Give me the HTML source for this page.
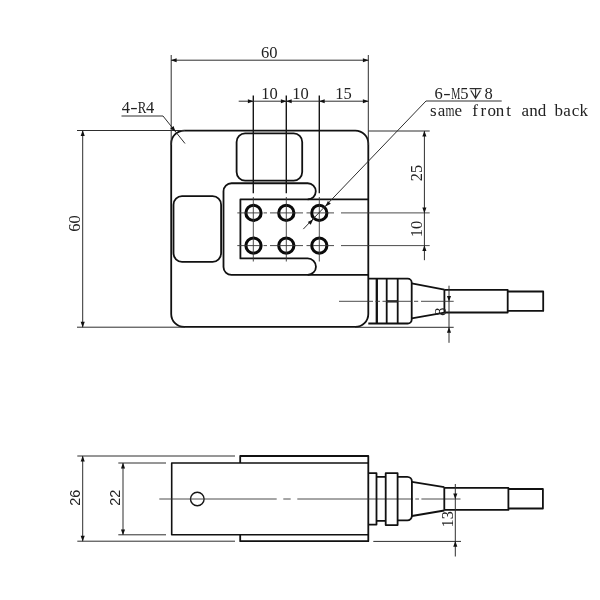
<!DOCTYPE html>
<html>
<head>
<meta charset="utf-8">
<title>Load cell drawing</title>
<style>
html,body{margin:0;padding:0;background:#fff;}
body{width:600px;height:600px;overflow:hidden;font-family:"Liberation Serif",serif;}
svg{display:block;filter:blur(0.35px);}
.k{fill:none;stroke:#111;stroke-width:1.8;stroke-linejoin:round;stroke-linecap:butt;}
.m{fill:none;stroke:#161616;stroke-width:1.4;}
.t{fill:none;stroke:#2e2e2e;stroke-width:1;}
.c{fill:none;stroke:#383838;stroke-width:0.9;}
.h{fill:none;stroke:#0a0a0a;stroke-width:3.1;}
.a{fill:#111;stroke:none;}
.s{font-family:"Liberation Serif",serif;font-size:16.5px;fill:#222;text-anchor:middle;}
.n{font-family:"Liberation Sans",sans-serif;font-size:14.5px;fill:#222;text-anchor:middle;}
</style>
</head>
<body>
<svg width="600" height="600" viewBox="0 0 600 600">
<rect x="0" y="0" width="600" height="600" fill="#fff"/>
<defs>
  <!-- arrowhead pointing right, tip at origin -->
  <path id="ar" d="M0.3,0 L-5.4,-2.05 L-5.4,2.05 Z"/>
</defs>

<!-- ================= FRONT VIEW ================= -->
<!-- main body -->
<rect class="k" x="171.2" y="130.6" width="197.1" height="196.3" rx="13" ry="13"/>
<!-- top window -->
<rect class="k" x="236.6" y="133.4" width="65.6" height="47.2" rx="8.5" ry="8.5"/>
<!-- left window -->
<rect class="k" x="173.5" y="196.2" width="47.6" height="65.6" rx="8.5" ry="8.5"/>
<!-- outer slot -->
<path class="k" d="M307.7,199.4 A8.07,8.07 0 0 0 307.7,183.25 L231.5,183.25 A8,8 0 0 0 223.5,191.25 L223.5,266.9 A8,8 0 0 0 231.5,274.9 L368.3,274.9"/>
<!-- inner tongue -->
<path class="k" d="M368.3,199.4 L240.4,199.4 L240.4,258.4 L307.7,258.4 A8.25,8.25 0 0 1 307.7,274.9"/>

<!-- holes -->
<g class="h">
<circle cx="253.5" cy="212.9" r="7.6"/><circle cx="286.3" cy="212.9" r="7.6"/><circle cx="319.3" cy="212.9" r="7.6"/>
<circle cx="253.5" cy="245.6" r="7.6"/><circle cx="286.3" cy="245.6" r="7.6"/><circle cx="319.3" cy="245.6" r="7.6"/>
</g>

<!-- hole centre lines (horizontal) -->
<path class="c" d="M237.3,212.9 H260 M263.5,212.9 H267 M270,212.9 H303 M306.5,212.9 H310 M313,212.9 H334 M341,212.9 H429.7"/>
<path class="c" d="M237.3,245.6 H260 M263.5,245.6 H267 M270,245.6 H303 M306.5,245.6 H310 M313,245.6 H334 M341,245.6 H429.7"/>
<!-- hole centre lines (vertical) / extension lines -->
<g class="m">
<path d="M253.3,95.5 V193.3 M286.3,95.5 V193.3 M319.3,95.5 V193.3"/>
</g>
<path class="c" d="M253.3,197 V261.5 M286.3,197 V261.5 M319.3,197 V261.5"/>

<!-- top 60 dimension -->
<path class="t" d="M171.2,55 V145 M368.3,55 V145 M171.2,60.2 H368.3"/>
<use href="#ar" class="a" transform="translate(171.2,60.2) rotate(180)"/>
<use href="#ar" class="a" transform="translate(368.3,60.2)"/>
<text class="s" x="269.3" y="58">60</text>

<!-- 10 10 15 dimension -->
<path class="t" d="M238.7,101.2 H368.3"/>
<use href="#ar" class="a" transform="translate(253.3,101.2)"/>
<use href="#ar" class="a" transform="translate(286.3,101.2)"/>
<use href="#ar" class="a" transform="translate(286.3,101.2) rotate(180)"/>
<use href="#ar" class="a" transform="translate(319.3,101.2) rotate(180)"/>
<use href="#ar" class="a" transform="translate(368.3,101.2)"/>
<text class="s" x="269.5" y="99">10</text>
<text class="s" x="300.5" y="99">10</text>
<text class="s" x="343.5" y="99">15</text>

<!-- left 60 dimension -->
<path class="t" d="M77,130.5 H185 M77,327.2 H185 M82.7,130.6 V327.2"/>
<use href="#ar" class="a" transform="translate(82.7,130.6) rotate(-90)"/>
<use href="#ar" class="a" transform="translate(82.7,327.2) rotate(90)"/>
<text class="s" transform="translate(80,223.5) rotate(-90)">60</text>

<!-- 4-R4 leader -->
<path class="t" d="M121.5,116 H163 L185,143.5"/>
<use href="#ar" class="a" transform="translate(175.3,131.4) rotate(51.3)"/>
<text class="s" x="125.8 150.2" y="113">44</text>
<text class="s" transform="translate(133.9,113) scale(1.35,1)">-</text>
<text class="s" transform="translate(142.1,113) scale(0.78,1)">R</text>

<!-- right 25 / 10 dimension -->
<path class="t" d="M368.3,131 H429.7 M424.4,131 V260.2"/>
<use href="#ar" class="a" transform="translate(424.4,131) rotate(-90)"/>
<use href="#ar" class="a" transform="translate(424.4,212.9) rotate(90)"/>
<use href="#ar" class="a" transform="translate(424.4,245.6) rotate(-90)"/>
<text class="s" transform="translate(422.3,173) rotate(-90)">25</text>
<text class="s" transform="translate(422.3,229) rotate(-90)">10</text>

<!-- 6-M5 leader -->
<path class="t" d="M501.7,101 H426 L303.3,229.1"/>
<use href="#ar" class="a" transform="translate(325.6,206.3) rotate(133.8)"/>
<use href="#ar" class="a" transform="translate(313,219.5) rotate(-46.2)"/>
<text class="s" x="438.5 464.3 488.7" y="98.6">658</text>
<text class="s" transform="translate(447,98.6) scale(1.35,1)">-</text>
<text class="s" transform="translate(455.7,98.6) scale(0.62,1)">M</text>
<path class="t" style="stroke-width:1.1" d="M469.6,88.6 H481.6 M475.6,88.6 V98.4 M470.8,90.4 L475.6,98.4 L480.4,90.4"/>
<text class="s" x="433.2 441.6 458.3 475.0 483.4 491.8 500.1 508.5 525.3 533.6 542.0 558.7 567.1 575.5 583.8" y="116" style="font-size:17px">saefrontandback</text>
<text class="s" transform="translate(449.9,116) scale(0.68,1)" style="font-size:17px">m</text>

<!-- connector front view -->
<path class="k" d="M368.3,278.7 H407.7 A4,4 0 0 1 411.7,282.7 V319.5 A4,4 0 0 1 407.7,323.5 H368.3"/>
<path class="k" d="M386.7,278.7 V323.5 M397.7,278.7 V323.5"/>
<path class="k" style="stroke-width:2.3" d="M376.8,278.7 V323.5 M386.7,301.3 H397.7"/>
<path class="k" d="M411.7,283.3 L444.4,289.6 M411.7,318.3 L444.4,312.7 M444.4,289.6 V312.7"/>
<path class="k" d="M444.4,289.9 H507.7 V312.5 H444.4"/>
<path class="k" d="M507.7,291.5 H543.2 V310.9 H507.7"/>
<!-- connector centre line -->
<path class="c" d="M339,301.3 H373 M375.5,301.3 H380 M382.5,301.3 H411.7 M414,301.3 H418.2 M421,301.3 H453.7"/>
<!-- 8 dimension -->
<path class="t" d="M355,327.3 H453.7 M449,285.7 V342.8"/>
<use href="#ar" class="a" transform="translate(449,301.3) rotate(90)"/>
<use href="#ar" class="a" transform="translate(449,327.3) rotate(-90)"/>
<text class="s" transform="translate(446,311.6) rotate(-90)">8</text>

<!-- ================= SIDE VIEW ================= -->
<path class="k" style="stroke-width:1.6" d="M368.3,463 H171.7 V534.8 H368.3"/>
<path class="k" d="M240.2,463 V456 H368.3 V541.2 H240.2 V534.8"/>
<circle class="m" cx="197.3" cy="499" r="6.8"/>
<!-- centre line -->
<path class="c" d="M159.3,499 H276.7 M283.3,499 H290.7 M297.3,499 H413 M415.3,499 H419 M421.4,499 H460.5"/>
<!-- connector -->
<path class="k" d="M368.3,473.2 H376.5 V524.6 H368.3"/>
<path class="k" d="M376.5,476.9 H385.7 M376.5,520.9 H385.7"/>
<rect class="k" x="385.7" y="473.2" width="11.9" height="51.9"/>
<path class="k" d="M397.6,476.9 H407.3 A4.6,4.6 0 0 1 411.9,481.5 V515.8 A4.6,4.6 0 0 1 407.3,520.4 H397.6"/>
<path class="k" d="M411.9,481.9 L444.3,487.2 M411.9,516 L444.3,510.5 M444.3,487.2 V510.5"/>
<path class="k" d="M444.3,487.9 H508.4 V509.9 H444.3"/>
<path class="k" d="M508.4,489 H542.9 V508.5 H508.4"/>
<!-- 26 / 22 dims -->
<path class="t" d="M77.3,456 H235 M77.3,541.2 H235 M82.7,456 V541.2"/>
<use href="#ar" class="a" transform="translate(82.7,456) rotate(-90)"/>
<use href="#ar" class="a" transform="translate(82.7,541.2) rotate(90)"/>
<path class="t" d="M118.3,463 H166 M118.3,534.8 H166 M123,463 V534.8"/>
<use href="#ar" class="a" transform="translate(123,463) rotate(-90)"/>
<use href="#ar" class="a" transform="translate(123,534.8) rotate(90)"/>
<text class="n" transform="translate(79.8,497.7) rotate(-90)">26</text>
<text class="n" transform="translate(119.8,497.7) rotate(-90)">22</text>
<!-- 13 dim -->
<path class="t" d="M373.3,541.4 H461 M455.3,484 V556.5"/>
<use href="#ar" class="a" transform="translate(455.3,499) rotate(90)"/>
<use href="#ar" class="a" transform="translate(455.3,541.4) rotate(-90)"/>
<text class="s" transform="translate(452.8,519.2) rotate(-90)">13</text>
</svg>
</body>
</html>
